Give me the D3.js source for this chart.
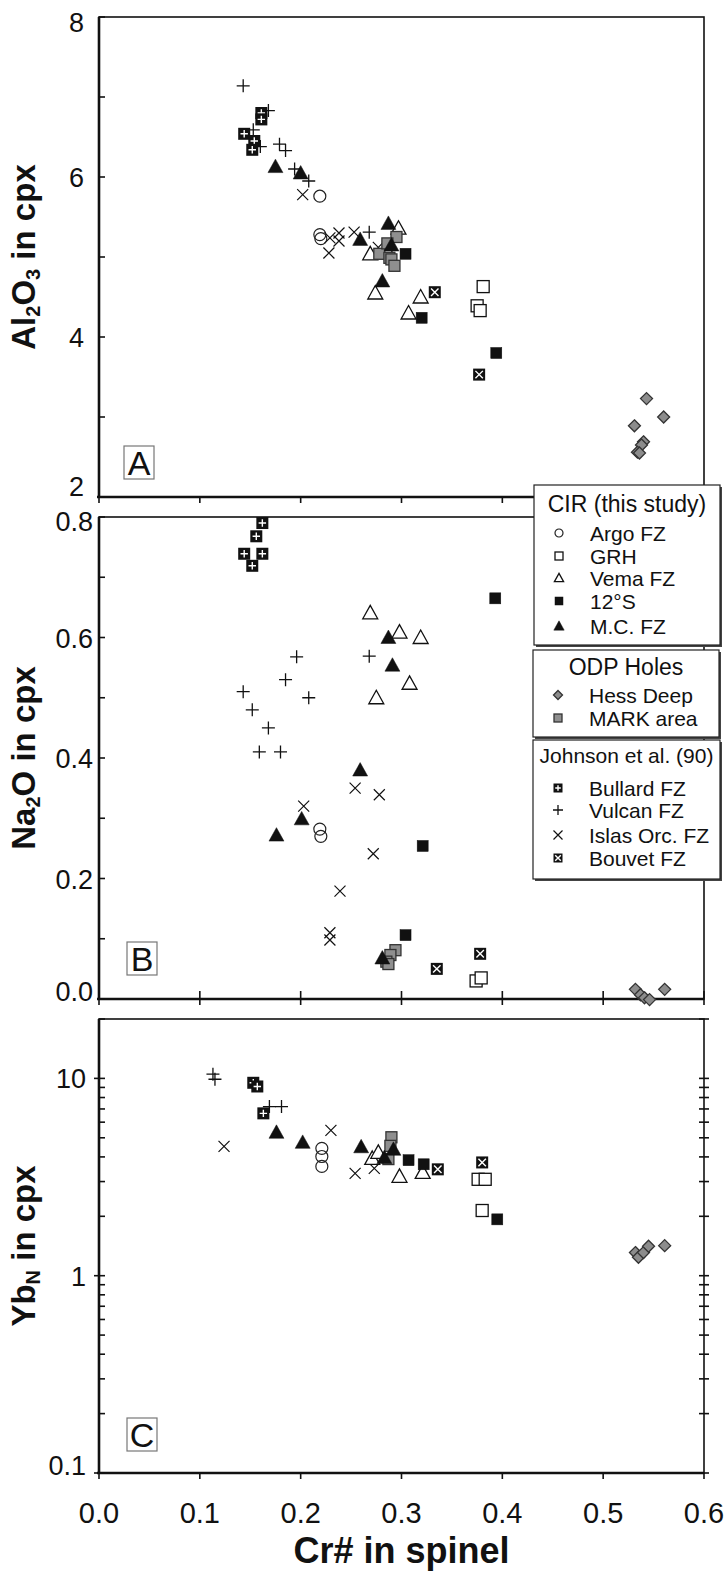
<!DOCTYPE html>
<html>
<head>
<meta charset="utf-8">
<script src="https://cdn.jsdelivr.net/npm/d3@7"></script>
<style>
body { margin:0; background:#fff; }
svg { display:block; font-family:"Liberation Sans", Arial, sans-serif; }
</style>
</head>
<body>
<svg id="chart"></svg>
<script>
// panel A : Cr# vs Al2O3
var argoA = [[0.219,5.76],[0.219,5.28],[0.220,5.23]];
var grhA = [[0.381,4.63],[0.375,4.39],[0.378,4.33]];
var vemaA = [[0.297,5.36],[0.269,5.04],[0.285,5.10],[0.274,4.55],[0.319,4.50],[0.307,4.30]];
var s12A = [[0.304,5.04],[0.320,4.24],[0.394,3.80]];
var mcA = [[0.175,6.13],[0.200,6.05],[0.259,5.22],[0.287,5.42],[0.290,5.15],[0.281,4.70]];
var hessA = [[0.543,3.23],[0.560,3.00],[0.531,2.89],[0.540,2.69],[0.538,2.65],[0.534,2.56],[0.536,2.55]];
var markA = [[0.295,5.25],[0.278,5.04],[0.286,5.17],[0.288,4.99],[0.290,4.97],[0.293,4.89]];
var bullardA = [[0.161,6.80],[0.161,6.72],[0.144,6.54],[0.154,6.45],[0.152,6.34]];
var vulcanA = [[0.143,7.14],[0.168,6.83],[0.153,6.59],[0.160,6.38],[0.179,6.41],[0.185,6.33],[0.194,6.10],[0.208,5.95],[0.268,5.31]];
var islasA = [[0.202,5.78],[0.229,5.24],[0.238,5.30],[0.238,5.20],[0.228,5.05],[0.253,5.31],[0.277,5.12]];
var bouvetA = [[0.333,4.56],[0.377,3.53]];

// panel B : Cr# vs Na2O
var argoB = [[0.219,0.282],[0.220,0.270]];
var grhB = [[0.374,0.030],[0.379,0.035]];
var vemaB = [[0.269,0.641],[0.298,0.609],[0.319,0.600],[0.308,0.524],[0.275,0.500]];
var s12B = [[0.393,0.665],[0.321,0.254],[0.304,0.106]];
var mcB = [[0.287,0.600],[0.291,0.554],[0.259,0.380],[0.201,0.299],[0.176,0.272],[0.281,0.068]];
var hessB = [[0.532,0.016],[0.537,0.007],[0.541,0.002],[0.546,-0.001],[0.561,0.016]];
var markB = [[0.294,0.081],[0.289,0.073],[0.285,0.062],[0.287,0.058]];
var bullardB = [[0.162,0.790],[0.156,0.768],[0.144,0.739],[0.162,0.739],[0.152,0.719]];
var vulcanB = [[0.196,0.568],[0.268,0.569],[0.185,0.530],[0.143,0.510],[0.208,0.500],[0.152,0.480],[0.168,0.450],[0.159,0.410],[0.180,0.410]];
var islasB = [[0.254,0.350],[0.278,0.339],[0.203,0.320],[0.272,0.241],[0.239,0.179],[0.229,0.110],[0.229,0.098]];
var bouvetB = [[0.335,0.050],[0.378,0.075]];

// panel C : Cr# vs YbN (log)
var argoC = [[0.221,4.42],[0.221,4.02],[0.221,3.58]];
var grhC = [[0.376,3.08],[0.383,3.08],[0.380,2.14]];
var vemaC = [[0.271,3.93],[0.277,4.22],[0.298,3.19],[0.321,3.34]];
var s12C = [[0.307,3.85],[0.322,3.67],[0.395,1.93]];
var mcC = [[0.176,5.33],[0.202,4.74],[0.260,4.50],[0.283,3.97],[0.292,4.37]];
var hessC = [[0.532,1.31],[0.535,1.24],[0.540,1.31],[0.545,1.41],[0.561,1.42]];
var markC = [[0.290,5.03],[0.289,4.55],[0.287,3.90]];
var bullardC = [[0.153,9.5],[0.157,9.1],[0.163,6.65]];
var vulcanC = [[0.113,10.5],[0.115,9.9],[0.169,7.2],[0.181,7.2]];
var islasC = [[0.124,4.52],[0.230,5.45],[0.254,3.30],[0.273,3.50]];
var bouvetC = [[0.336,3.46],[0.380,3.75]];

// ticks
var xTicks = [0,0.1,0.2,0.3,0.4,0.5,0.6];
var yTicksA = [2,4,6,8];
var yMinorA = [3,5,7];
var yTicksB = [0,0.2,0.4,0.6,0.8];
var yMinorB = [0.1,0.3,0.5,0.7];
var yTicksC = [0.1,1,10];
var yMinorC = [0.2,0.3,0.4,0.5,0.6,0.7,0.8,0.9,2,3,4,5,6,7,8,9,20];

// legend
var legendCIR = ["Argo FZ","GRH","Vema FZ","12°S","M.C. FZ"];
var legendODP = ["Hess Deep","MARK area"];
var legendJohnson = ["Bullard FZ","Vulcan FZ","Islas Orc. FZ","Bouvet FZ"];

var x = d3.scaleLinear().domain([0,0.6]).range([99,704]);

var addMarker = function(g, type, s)
{
    var h = s/2;
    if (type=="circle")
    {
        g.append("circle").attr("r", h).attr("fill","none")
            .attr("stroke","#222").attr("stroke-width",1.2);
    }
    else if (type=="opensquare" || type=="square" || type=="marksq")
    {
        g.append("rect").attr("x",-h).attr("y",-h).attr("width",s).attr("height",s)
            .attr("fill", type=="opensquare" ? "#fff" : (type=="square" ? "#111" : "#8f8f8f"))
            .attr("stroke", type=="marksq" ? "#333" : "#111")
            .attr("stroke-width", type=="square" ? 0.5 : 1.3);
    }
    else if (type=="opentri" || type=="tri")
    {
        var t = h*1.15;
        g.append("path")
            .attr("d","M0,"+(-t)+"L"+(t)+","+(t*0.8)+"L"+(-t)+","+(t*0.8)+"Z")
            .attr("fill", type=="tri" ? "#111" : "#fff")
            .attr("stroke","#111")
            .attr("stroke-width", type=="tri" ? 0.5 : 1.3);
    }
    else if (type=="diamond")
    {
        g.append("path")
            .attr("d","M0,"+(-h)+"L"+h+",0L0,"+h+"L"+(-h)+",0Z")
            .attr("fill","#8c8c8c").attr("stroke","#333").attr("stroke-width",1.3);
    }
    else if (type=="plus")
    {
        g.append("path").attr("d","M"+(-h)+",0H"+h+"M0,"+(-h)+"V"+h)
            .attr("stroke","#111").attr("stroke-width",1.3);
    }
    else if (type=="cross")
    {
        g.append("path").attr("d","M"+(-h)+","+(-h)+"L"+h+","+h+"M"+(-h)+","+h+"L"+h+","+(-h))
            .attr("stroke","#111").attr("stroke-width",1.2);
    }
    else if (type=="bullard" || type=="bouvet")
    {
        g.append("rect").attr("x",-h).attr("y",-h).attr("width",s).attr("height",s)
            .attr("fill","#111");
        var k = h*0.62;
        g.append("path")
            .attr("d", type=="bullard"
                ? "M"+(-k)+",0H"+k+"M0,"+(-k)+"V"+k
                : "M"+(-k)+","+(-k)+"L"+k+","+k+"M"+(-k)+","+k+"L"+k+","+(-k))
            .attr("stroke","#fff").attr("stroke-width",1.4);
    }
};

var drawSeries = function(layer, data, y, type, s)
{
    layer.append("g")
        .selectAll("g")
        .data(data)
        .enter()
        .append("g")
        .attr("transform", function(d)
            {
                return "translate("+x(d[0])+","+y(d[1])+")";
            })
        .each(function()
            {
                addMarker(d3.select(this), type, s);
            });
};

var drawPanel = function(svg, p)
{
    var y = p.y;
    var g = svg.append("g");
    var r0 = y.range()[0], r1 = y.range()[1];

    // frame
    g.append("rect")
        .attr("x", 99).attr("y", r1)
        .attr("width", 704-99).attr("height", r0-r1)
        .attr("fill","none").attr("stroke","#111").attr("stroke-width",1.6);
    g.append("line").attr("x1",99).attr("x2",99).attr("y1",r1).attr("y2",r0)
        .attr("stroke","#111").attr("stroke-width",2.6);
    g.append("line").attr("x1",97).attr("x2",704).attr("y1",r0).attr("y2",r0)
        .attr("stroke","#111").attr("stroke-width",2.6);

    // x ticks
    g.selectAll(".xt").data(xTicks).enter().append("line")
        .attr("x1", function(d){ return x(d); })
        .attr("x2", function(d){ return x(d); })
        .attr("y1", r0 - p.xTickIn).attr("y2", r0 + 6)
        .attr("stroke","#111").attr("stroke-width",1.6);

    // y ticks
    g.selectAll(".ymaj").data(p.major).enter().append("line")
        .attr("x1", 99 - p.yTickOut).attr("x2", 105)
        .attr("y1", function(d){ return y(d); })
        .attr("y2", function(d){ return y(d); })
        .attr("stroke","#111").attr("stroke-width",1.6);
    g.selectAll(".ymin").data(p.minor).enter().append("line")
        .attr("x1", 99).attr("x2", 105)
        .attr("y1", function(d){ return y(d); })
        .attr("y2", function(d){ return y(d); })
        .attr("stroke","#111").attr("stroke-width",1.6);
    if (p.rightTicks)
    {
        g.selectAll(".yr").data(p.major.concat(p.minor)).enter().append("line")
            .attr("x1", 699).attr("x2", 709)
            .attr("y1", function(d){ return y(d); })
            .attr("y2", function(d){ return y(d); })
            .attr("stroke","#111").attr("stroke-width",1.6);
    }

    // y tick labels
    g.selectAll(".yl").data(p.major).enter().append("text")
        .attr("x", p.labelX)
        .attr("y", function(d, i)
            {
                var c = y(d);
                if (i==0) c = c - p.shiftBottom;
                if (i==p.major.length-1) c = c + p.shiftTop;
                return c + 10;
            })
        .attr("text-anchor","end")
        .attr("font-size", 27)
        .attr("fill","#111")
        .text(function(d){ return p.fmt(d); });

    // y title
    var title = g.append("text")
        .attr("transform","translate(35,"+((r0+r1)/2)+") rotate(-90)")
        .attr("text-anchor","middle")
        .attr("font-size",33)
        .attr("font-weight","bold")
        .attr("fill","#111");
    p.title.forEach(function(part)
    {
        var ts = title.append("tspan").text(part[0]);
        if (part[1]) ts.attr("font-size",20).attr("dy",5);
        else if (part[2]) ts.attr("dy",-5);
    });

    // panel letter
    var lb = g.append("g").attr("transform","translate("+p.box[0]+","+p.box[1]+")");
    lb.append("rect").attr("width",30).attr("height",33)
        .attr("fill","#fff").attr("stroke","#777").attr("stroke-width",1.2);
    lb.append("text").attr("x",15).attr("y",29).attr("text-anchor","middle")
        .attr("font-size",34).attr("fill","#111").text(p.letter);

    // points
    var pts = g.append("g");
    drawSeries(pts, p.data.islas, y, "cross", 11);
    drawSeries(pts, p.data.vulcan, y, "plus", 13);
    drawSeries(pts, p.data.argo, y, "circle", 12);
    drawSeries(pts, p.data.vema, y, "opentri", 13);
    drawSeries(pts, p.data.mark, y, "marksq", 11);
    drawSeries(pts, p.data.mc, y, "tri", 13);
    drawSeries(pts, p.data.grh, y, "opensquare", 12);
    drawSeries(pts, p.data.s12, y, "square", 11);
    drawSeries(pts, p.data.hess, y, "diamond", 12);
    drawSeries(pts, p.data.bullard, y, "bullard", 12);
    drawSeries(pts, p.data.bouvet, y, "bouvet", 12);
};

var drawLegendBox = function(svg, bx, by, bw, bh, title, titleSize, titleY, items, types, sizes, rowY)
{
    var g = svg.append("g");
    g.append("rect").attr("x",bx+2).attr("y",by+2).attr("width",bw).attr("height",bh)
        .attr("fill","#444");
    g.append("rect").attr("x",bx).attr("y",by).attr("width",bw).attr("height",bh)
        .attr("fill","#fff").attr("stroke","#222").attr("stroke-width",1.2);
    g.append("text").attr("x", bx+bw/2).attr("y", titleY)
        .attr("text-anchor","middle").attr("font-size",titleSize).attr("fill","#111")
        .text(title);
    var rows = g.selectAll(".row").data(items).enter().append("g")
        .attr("transform", function(d,i){ return "translate(0,"+rowY[i]+")"; });
    rows.append("g")
        .attr("transform","translate("+(bx+25)+",0)")
        .each(function(d,i){ addMarker(d3.select(this), types[i], sizes[i]); });
    rows.append("text")
        .attr("x", bx+56).attr("y", 7.5)
        .attr("font-size",21).attr("fill","#111")
        .text(function(d){ return d; });
};

var initChart = function(target)
{
    var svg = d3.select(target).attr("width",726).attr("height",1575);

    drawPanel(svg, {
        y: d3.scaleLinear().domain([2,8]).range([497,17]),
        major: yTicksA, minor: yMinorA, fmt: d3.format("d"),
        labelX: 84, shiftBottom: 11, shiftTop: 5, xTickIn: 0, yTickOut: 0,
        title: [["Al"],["2",true],["O",false,true],["3",true],[" in cpx",false,true]],
        box: [124,446], letter: "A", rightTicks: false,
        data: {argo:argoA, grh:grhA, vema:vemaA, s12:s12A, mc:mcA, hess:hessA, mark:markA,
               bullard:bullardA, vulcan:vulcanA, islas:islasA, bouvet:bouvetA}
    });

    drawPanel(svg, {
        y: d3.scaleLinear().domain([0,0.8]).range([999,517]),
        major: yTicksB, minor: yMinorB, fmt: d3.format(".1f"),
        labelX: 93, shiftBottom: 8, shiftTop: 4, xTickIn: 8, yTickOut: 0,
        title: [["Na"],["2",true],["O in cpx",false,true]],
        box: [127,942], letter: "B", rightTicks: false,
        data: {argo:argoB, grh:grhB, vema:vemaB, s12:s12B, mc:mcB, hess:hessB, mark:markB,
               bullard:bullardB, vulcan:vulcanB, islas:islasB, bouvet:bouvetB}
    });

    drawPanel(svg, {
        y: d3.scaleLog().domain([0.1,20]).range([1473,1019]),
        major: yTicksC, minor: yMinorC, fmt: function(d){ return d<1 ? "0.1" : String(d); },
        labelX: 86, shiftBottom: 8, shiftTop: 0, xTickIn: 0, yTickOut: 5,
        title: [["Yb"],["N",true],[" in cpx",false,true]],
        box: [127,1418], letter: "C", rightTicks: true,
        data: {argo:argoC, grh:grhC, vema:vemaC, s12:s12C, mc:mcC, hess:hessC, mark:markC,
               bullard:bullardC, vulcan:vulcanC, islas:islasC, bouvet:bouvetC}
    });

    // x tick labels and title (bottom panel only)
    svg.append("g").selectAll("text").data(xTicks).enter().append("text")
        .attr("x", function(d){ return x(d); })
        .attr("y", 1523)
        .attr("text-anchor","middle")
        .attr("font-size",29)
        .attr("fill","#111")
        .text(d3.format(".1f"));
    svg.append("text")
        .attr("x", (99+704)/2).attr("y",1563)
        .attr("text-anchor","middle")
        .attr("font-size",36).attr("font-weight","bold").attr("fill","#111")
        .text("Cr# in spinel");

    // legends
    drawLegendBox(svg, 534, 485, 186, 160, "CIR (this study)", 23, 512, legendCIR,
        ["circle","opensquare","opentri","square","tri"], [8,8,8,8,9],
        [533,556,578,601,626]);
    drawLegendBox(svg, 533, 650, 186, 87, "ODP Holes", 23, 675, legendODP,
        ["diamond","marksq"], [9,8], [695,718]);
    drawLegendBox(svg, 533, 740, 187, 139, "Johnson et al. (90)", 21, 763, legendJohnson,
        ["bullard","plus","cross","bouvet"], [9,10,9,9], [788,810,835,858]);
};

initChart("#chart");
</script>
</body>
</html>
